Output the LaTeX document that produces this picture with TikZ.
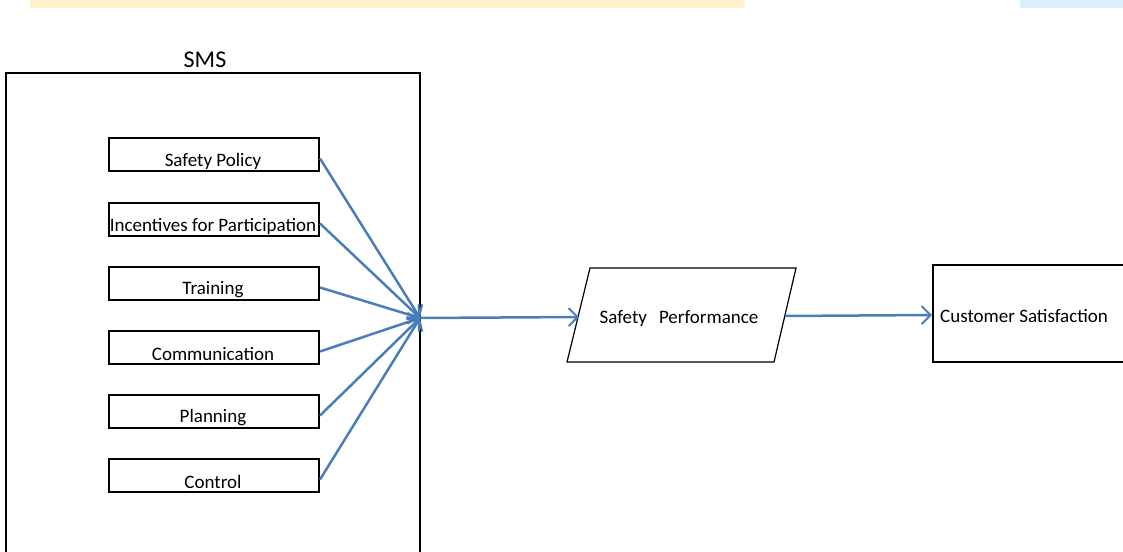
\documentclass[tikz,border=0pt]{standalone}
\usepackage{fontspec}
\setmainfont{Carlito}
\usetikzlibrary{arrows.meta}
\definecolor{arrowblue}{HTML}{4A7EBB}
\definecolor{bandyellow}{HTML}{FFF3CC}
\definecolor{bandblue}{HTML}{D9F0FC}
\tikzset{
  itembox/.style={draw=black, line width=2pt, minimum width=210pt, minimum height=33pt, inner sep=0pt},
  itemtext/.style={font=\fontsize{19}{22}\selectfont, inner sep=0pt},
  frame/.style={draw=black, line width=2pt},
  flow/.style={draw=arrowblue, line width=2.5pt, -{Straight Barb[length=9pt, width=18pt, line width=2pt]}},
}
\begin{document}
\begin{tikzpicture}[x=1pt, y=-1pt]
\useasboundingbox (0,0) rectangle (1123,551);
% faint bands at the top edge
\fill[bandyellow] (30,0) rectangle (745,8);
\fill[bandblue] (1020,0) rectangle (1123,8);

% SMS frame
\node[font=\fontsize{24}{28}\selectfont, inner sep=0pt] (smslabel) at (205,60) {SMS};
\draw[frame] (6,560) -- (6,73) -- (420,73) -- (420,560);
\coordinate (hub) at (420,318);

% items
\foreach \name/\txt/\y in {sp/Safety Policy/137, inc/Incentives for Participation/202, tr/Training/266, com/Communication/330, pl/Planning/394, ctl/Control/458}{
  \node[itembox, anchor=north west] (\name) at (108,\y) {};
  \node[itemtext] (\name t) at (213,\y+24) {\txt};
}

% connectors to hub
\foreach \name in {sp,inc,tr,com,pl,ctl}{
  \draw[flow] ([yshift=-4pt]\name.east) -- (hub);
}

% safety performance parallelogram
\coordinate (pa) at (590,268);
\coordinate (pb) at (796,268);
\coordinate (pc) at (774,362);
\coordinate (pd) at (567,362);
\draw[line width=1.2pt] (pa) -- (pb) -- (pc) -- (pd) -- cycle;
\node[itemtext] (perf) at (679,319) {Safety\hspace{12pt}Performance};
\coordinate (perfin) at (579,317);
\coordinate (perfout) at (785,316);

% customer satisfaction box
\draw[frame] (1130,265) -- (933,265) -- (933,362) -- (1130,362);
\coordinate (custin) at (932,315);
\node[itemtext, anchor=west] (cust) at (940,315.5) {Customer Satisfaction};

\draw[flow] (hub) -- (perfin);
\draw[flow] (perfout) -- (custin);
\end{tikzpicture}
\end{document}
